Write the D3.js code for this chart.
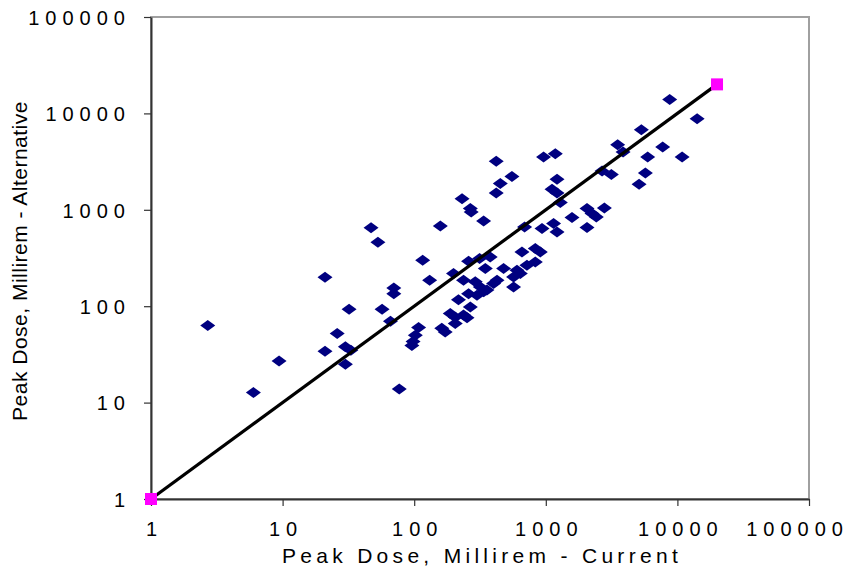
<!DOCTYPE html>
<html>
<head>
<meta charset="utf-8">
<script src="https://cdn.jsdelivr.net/npm/d3@7"></script>
<style>
  html, body { margin: 0; padding: 0; background: #ffffff; }
  svg { display: block; }
  text { font-family: "Liberation Sans", Arial, sans-serif; fill: #000; }
</style>
</head>
<body>
<svg id="chart" width="851" height="573"></svg>
<script>
// ---- data ----
const currentDose = [2.7, 6, 9.4, 21, 21, 26, 30, 33, 30, 32, 47, 53, 57, 66, 70, 70, 77, 108, 102, 98, 96,
  116, 131, 158, 162, 172, 188, 205, 205, 199, 217, 231, 237, 237, 252, 259, 267, 271, 259, 267, 291, 318,
  337, 314, 347, 337, 300, 378, 357, 401, 426, 420, 553, 451, 420, 478, 604, 569, 640, 719, 569, 659, 832,
  908, 832, 690, 936, 1146, 1217, 962, 1181, 1217, 1115, 1217, 1289, 1582, 2057, 2245, 2421, 2786, 2057,
  2676, 3148, 3516, 3865, 5323, 5944, 5710, 5114, 7731, 8740, 10860, 14120];
const alternativeDose = [63, 12.7, 27, 200, 34, 52, 38, 35, 25, 93, 650, 460, 93, 70, 154, 135, 13.8, 60, 50, 43, 39,
  300, 186, 680, 59, 54, 84, 77, 66, 218, 117, 1300, 186, 81, 76, 293, 1030, 950, 135, 98, 179, 158,
  141, 312, 246, 765, 130, 324, 147, 172, 186, 3180, 2220, 1870, 1490, 246, 236, 201, 218, 266, 158, 365, 396,
  365, 288, 663, 639, 719, 589, 3530, 3820, 2070, 1630, 1490, 1190, 830, 1030, 913, 842, 1044, 654,
  2524, 2317, 4740, 3970, 6780, 3530, 2410, 1840, 4480, 13970, 3530, 8810];
const lineX = [1, 20000];
const lineY = [1, 20000];
const endX = [1, 20000];
const endY = [1, 20000];
const tickValues = [1, 10, 100, 1000, 10000, 100000];
const xTitle = "Peak Dose, Millirem - Current";
const yTitle = "Peak Dose, Millirem - Alternative";

(function () {
// ---- layout ----
const pLeft = 151, pRight = 809, pTop = 17, pBottom = 499;
const W = 851;
const svg = d3.select("#chart");

const x = d3.scaleLog().domain([1, 100000]).range([pLeft, pRight]);
const y = d3.scaleLog().domain([1, 100000]).range([pBottom, pTop]);

// plot border (top/right gray)
svg.append("rect")
  .attr("x", pLeft).attr("y", pTop)
  .attr("width", pRight - pLeft).attr("height", pBottom - pTop)
  .attr("fill", "none").attr("stroke", "#a0a0a0").attr("stroke-width", 2);

const tickFmt = d3.format("d");
const LS = 6;

const xAxis = svg.append("g")
  .attr("transform", `translate(0,${pBottom})`)
  .call(d3.axisBottom(x).tickValues(tickValues).tickFormat(tickFmt).tickSize(7).tickSizeOuter(0));
xAxis.select(".domain").attr("stroke", "#333").attr("stroke-width", 2);
xAxis.selectAll(".tick line").attr("stroke", "#333").attr("stroke-width", 1.2);
xAxis.selectAll(".tick text")
  .attr("y", 0).attr("dy", null)
  .attr("transform", `translate(${LS/2},37)`)
  .style("font-size", "20px").style("letter-spacing", LS + "px");

const yAxis = svg.append("g")
  .attr("transform", `translate(${pLeft},0)`)
  .call(d3.axisLeft(y).tickValues(tickValues).tickFormat(tickFmt).tickSize(7).tickSizeOuter(0));
yAxis.select(".domain").attr("stroke", "#333").attr("stroke-width", 2);
yAxis.selectAll(".tick line").attr("stroke", "#333").attr("stroke-width", 1.2);
yAxis.selectAll(".tick text")
  .attr("x", -26 + LS).attr("dy", "0.36em")
  .style("font-size", "20px").style("letter-spacing", LS + "px");
svg.selectAll(".tick text").attr("fill", "#000").attr("font-family", null);

// keep the last x label inside the canvas
xAxis.selectAll(".tick text").each(function () {
  const b = this.getBoundingClientRect();
  const over = b.right - (W - 2);
  if (over > 0) {
    d3.select(this).attr("transform", `translate(${LS/2 - over},37)`);
  }
});

// scatter points (navy diamonds)
const pts = currentDose.map((d, i) => [d, alternativeDose[i]]);
svg.append("g").selectAll("path")
  .data(pts).enter().append("path")
  .attr("d", "M0,-5.5L7.5,0L0,5.5L-7.5,0Z")
  .attr("transform", d => `translate(${x(d[0])},${y(d[1])})`)
  .attr("fill", "#000080");

// 1:1 line
const lineData = lineX.map((d, i) => [d, lineY[i]]);
svg.append("path")
  .datum(lineData)
  .attr("d", d3.line().x(d => x(d[0])).y(d => y(d[1])))
  .attr("fill", "none").attr("stroke", "#000").attr("stroke-width", 3.2);

// end markers (magenta squares)
const ends = endX.map((d, i) => [d, endY[i]]);
svg.append("g").selectAll("rect")
  .data(ends).enter().append("rect")
  .attr("x", d => x(d[0]) - 6).attr("y", d => y(d[1]) - 6)
  .attr("width", 12).attr("height", 12)
  .attr("fill", "#ff00ff");

// titles
svg.append("text")
  .attr("x", (pLeft + pRight) / 2 + 2).attr("y", 563)
  .attr("text-anchor", "middle")
  .style("font-size", "21px").style("letter-spacing", "4.3px")
  .text(xTitle);

svg.append("text")
  .attr("transform", `translate(27,261) rotate(-90)`)
  .attr("text-anchor", "middle")
  .style("font-size", "21px").style("letter-spacing", "0.5px")
  .text(yTitle);
})();
</script>
</body>
</html>
